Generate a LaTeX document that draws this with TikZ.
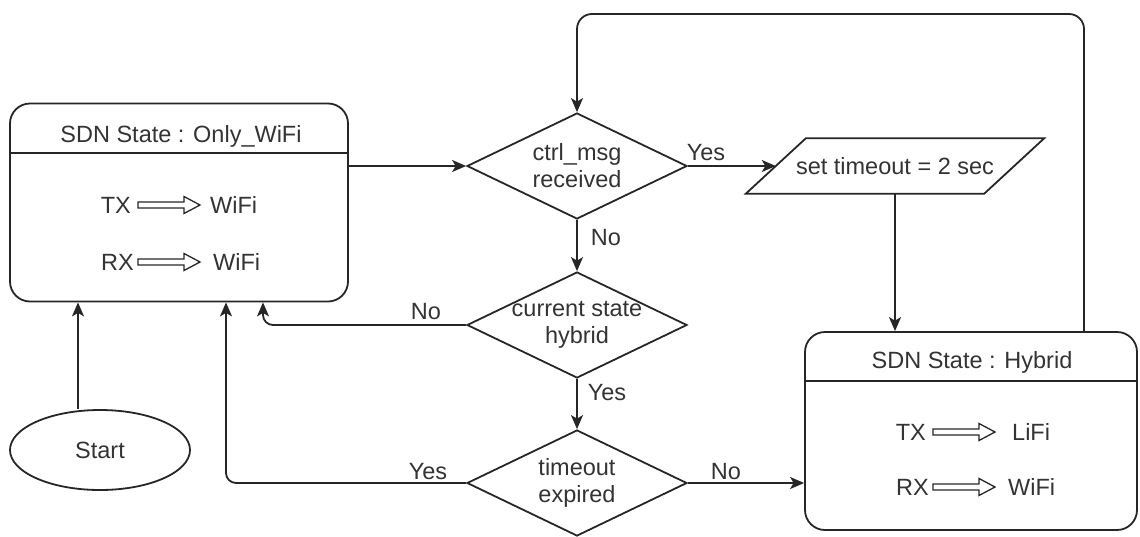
\documentclass[tikz,border=0pt]{standalone}
\usepackage{fontspec}
\setmainfont{Liberation Sans}
\usetikzlibrary{shapes.geometric,arrows.meta}
\definecolor{ink}{RGB}{38,38,38}
\definecolor{txt}{RGB}{51,51,51}
\begin{document}
\begin{tikzpicture}[x=1pt,y=-1pt,
  font=\fontsize{23.5}{27}\selectfont,
  line/.style={draw=ink, line width=1.8pt},
  arr/.style={line, -{Stealth[length=14pt,width=12pt,inset=3.5pt]}},
  statebox/.style={line, rounded corners=20pt, inner sep=0, minimum height=198pt},
  decision/.style={line, diamond, minimum width=220pt, minimum height=106pt, inner sep=0},
  lbl/.style={text=txt, inner sep=0},
  fatarrow/.pic={
    \draw[draw=ink, line width=1.3pt, line join=miter]
      (0,-3) -- (46,-3) -- (46,-8.5) -- (62,0) -- (46,8.5) -- (46,3) -- (0,3) -- cycle;
  }
]
\useasboundingbox (0,0) rectangle (1140,536);

% state: only WiFi
\node[statebox, minimum width=338pt] (lbox) at (179,202.5) {};
\draw[line] (10,153) -- (348,153);
\node[lbl, anchor=base] (ltitle) at (181,142) {SDN State : Only\_WiFi};
\node[lbl, anchor=east] (ltx) at (131,205) {TX};
\pic at (138,205) {fatarrow};
\node[lbl, anchor=west] (ltxw) at (210,205) {WiFi};
\node[lbl, anchor=east] (lrx) at (134,262) {RX};
\pic at (138,262) {fatarrow};
\node[lbl, anchor=west] (lrxw) at (213,262) {WiFi};

% state: hybrid
\node[statebox, minimum width=332pt] (hbox) at (971,431) {};
\draw[line] (805,381) -- (1137,381);
\node[lbl, anchor=base] (htitle) at (972,368) {SDN State : Hybrid};
\node[lbl, anchor=east] (htx) at (926,432) {TX};
\pic at (933,432) {fatarrow};
\node[lbl, anchor=west] (htxl) at (1012,432) {LiFi};
\node[lbl, anchor=east] (hrx) at (929,487) {RX};
\pic at (933,487) {fatarrow};
\node[lbl, anchor=west] (hrxw) at (1008,487) {WiFi};

% start
\node[line, ellipse, minimum width=180pt, minimum height=80pt, text=txt] (start) at (100,450) {Start};

% decisions
\node[decision] (d1) at (577,166) {};
\node[lbl, align=center] (d1t) at (d1) {ctrl\_msg\\received};
\node[decision] (d2) at (577,325) {};
\node[lbl, align=center] (d2t) at (d2) {current state\\hybrid};
\node[decision] (d3) at (577,483) {};
\node[lbl, align=center] (d3t) at (d3) {timeout\\expired};

% timeout setting
\node[inner sep=0, minimum width=238pt, minimum height=55pt, text=txt] (para) at (895,166) {set timeout = 2 sec};
\draw[line, line join=miter] ([xshift=30pt]para.north west) -- ([xshift=30pt]para.north east)
  -- ([xshift=-30pt]para.south east) -- ([xshift=-30pt]para.south west) -- cycle;

% connectors
\draw[arr] (78,0 |- start.north) -- (78,0 |- lbox.south);
\draw[arr] (lbox.east |- d1.west) -- (d1.west);
\draw[arr] (d1.east) -- (para.west);
\draw[arr] (d1.south) -- (d2.north);
\draw[arr, rounded corners=10pt] (d2.west) -- (263,0 |- d2.west) -- (263,0 |- lbox.south);
\draw[arr] (d2.south) -- (d3.north);
\draw[arr, rounded corners=10pt] (d3.west) -- (226,0 |- d3.west) -- (226,0 |- lbox.south);
\draw[arr] (d3.east) -- (d3.east -| hbox.west);
\draw[arr] (para.south) -- (para.south |- hbox.north);
\draw[arr, rounded corners=15pt] (1084,0 |- hbox.north) -- (1084,14) -- (d1.north |- 0,14) -- (d1.north);

% branch labels
\node[lbl] (y1) at (706,153) {Yes};
\node[lbl] (n1) at (606,238) {No};
\node[lbl] (n2) at (426,312) {No};
\node[lbl] (y2) at (607,393) {Yes};
\node[lbl] (y3) at (428,472) {Yes};
\node[lbl] (n3) at (726,472) {No};
\end{tikzpicture}
\end{document}
